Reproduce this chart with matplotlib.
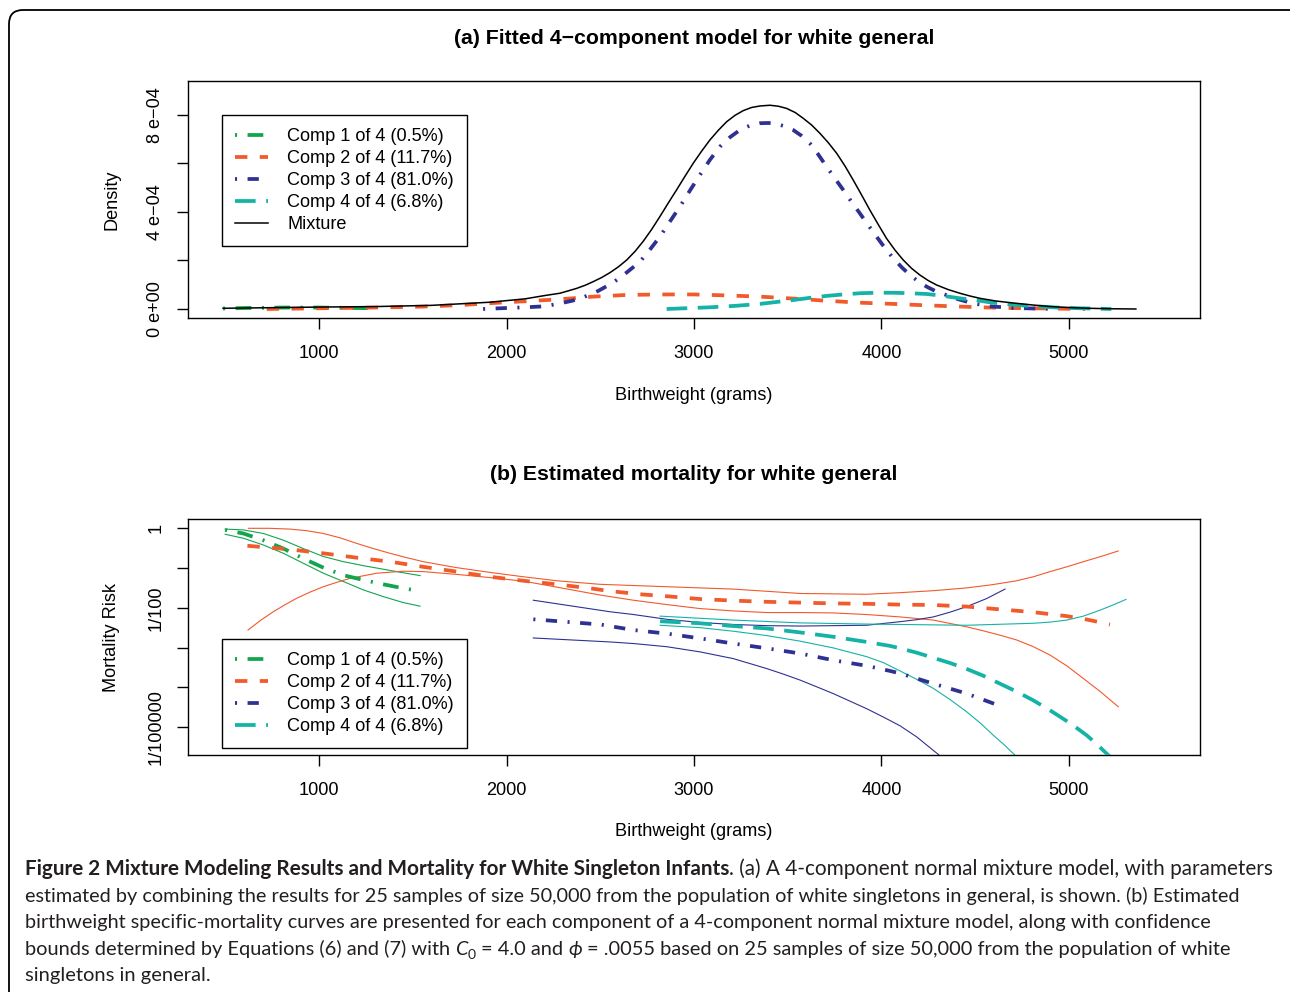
import numpy as np
import matplotlib
matplotlib.use("Agg")
import matplotlib.pyplot as plt
from matplotlib.patches import FancyBboxPatch
from matplotlib.ticker import FixedLocator, FixedFormatter, NullLocator

plt.rcParams['font.family'] = ['Liberation Sans', 'DejaVu Sans']

W, H = 1290, 992

# ── (a) fitted densities (density in units of 1e-4) ──
mix_g   = [488, 700, 1000, 1300, 1600, 1912, 2100, 2200, 2285, 2330, 2374, 2420, 2463, 2508,
           2552, 2597, 2641, 2686, 2730, 2774, 2818, 2862, 2907, 2951, 2996, 3040, 3085,
           3130, 3174, 3218, 3263, 3308, 3352, 3405, 3450, 3494, 3540, 3583, 3628, 3672,
           3717, 3761, 3805, 3849, 3894, 3938, 3983, 4027, 4072, 4116, 4160, 4205, 4250,
           4294, 4356, 4418, 4470, 4525, 4610, 4700, 4800, 4900, 5000, 5100, 5230, 5357]
mix_d   = [0.03, 0.05, 0.08, 0.10, 0.15, 0.28, 0.42, 0.55, 0.65, 0.75, 0.85, 0.98, 1.13, 1.30,
           1.50, 1.74, 2.02, 2.38, 2.80, 3.28, 3.81, 4.36, 4.91, 5.46, 6.01, 6.50, 6.97,
           7.37, 7.72, 7.98, 8.18, 8.31, 8.37, 8.40, 8.36, 8.27, 8.10, 7.86, 7.58, 7.24,
           6.85, 6.42, 5.90, 5.32, 4.70, 4.08, 3.48, 2.91, 2.43, 2.02, 1.68, 1.40, 1.17,
           0.99, 0.80, 0.65, 0.54, 0.44, 0.33, 0.25, 0.17, 0.10, 0.06, 0.03, 0.01, 0.0]

c1_g    = [488, 600, 700, 800, 900, 1000, 1100, 1200, 1288]
c1_d    = [0.02, 0.04, 0.05, 0.06, 0.06, 0.06, 0.05, 0.04, 0.03]

c2_g    = [721, 1000, 1300, 1555, 1750, 1912, 2100, 2285, 2463, 2641, 2818, 2996, 3174,
           3352, 3529, 3707, 3885, 4063, 4241, 4418, 4525, 4700, 4900, 5085]
c2_d    = [0.0, 0.03, 0.06, 0.10, 0.16, 0.24, 0.32, 0.40, 0.51, 0.58, 0.60, 0.60, 0.56,
           0.51, 0.43, 0.34, 0.26, 0.21, 0.15, 0.10, 0.07, 0.04, 0.02, 0.0]

c3_g    = [1875, 1964, 2100, 2202, 2285, 2350, 2409, 2490, 2569, 2640, 2712, 2765, 2818,
           2871, 2925, 2978, 3032, 3085, 3138, 3190, 3245, 3300, 3352, 3397, 3441, 3485,
           3529, 3574, 3618, 3662, 3707, 3751, 3796, 3840, 3885, 3930, 3974, 4018, 4063,
           4108, 4152, 4196, 4241, 4285, 4330, 4410, 4489, 4583, 4702, 4940]
c3_d    = [0.0, 0.03, 0.07, 0.11, 0.23, 0.34, 0.48, 0.75, 1.09, 1.50, 1.95, 2.45, 2.98,
           3.60, 4.22, 4.88, 5.53, 6.15, 6.69, 7.07, 7.38, 7.57, 7.66, 7.67, 7.63, 7.53,
           7.38, 7.14, 6.83, 6.38, 5.87, 5.39, 4.91, 4.42, 3.94, 3.45, 2.98, 2.52, 2.09,
           1.72, 1.40, 1.14, 0.92, 0.75, 0.62, 0.40, 0.23, 0.11, 0.04, 0.0]

c4_g    = [2854, 3085, 3220, 3352, 3440, 3529, 3618, 3707, 3796, 3885, 3974, 4063, 4152,
           4241, 4330, 4418, 4525, 4583, 4700, 4821, 4940, 5060, 5226]
c4_d    = [0.0, 0.07, 0.13, 0.21, 0.29, 0.37, 0.46, 0.54, 0.60, 0.65, 0.67, 0.67, 0.65,
           0.62, 0.54, 0.44, 0.34, 0.27, 0.18, 0.11, 0.06, 0.03, 0.0]

# ── (b) mortality curves with bounds (log10 of risk) ──
m1_g    = [499, 596, 703, 810, 916, 1023, 1130, 1236, 1343, 1450, 1539]
m1_mid  = [-0.04, -0.13, -0.30, -0.51, -0.76, -0.99, -1.18, -1.30, -1.41, -1.51, -1.58]
m1_hi   = [-0.02, -0.04, -0.13, -0.30, -0.51, -0.71, -0.84, -0.94, -1.03, -1.12, -1.19]
m1_lo   = [-0.15, -0.25, -0.42, -0.63, -0.88, -1.13, -1.34, -1.55, -1.72, -1.87, -1.96]

m2_g    = [618, 845, 1023, 1201, 1379, 1556, 1734, 1912, 2090, 2268, 2445, 2552, 2712,
           2855, 3032, 3210, 3388, 3566, 3743, 3921, 4099, 4277, 4455, 4632, 4810, 4988, 5100, 5219]
m2_mid  = [-0.44, -0.53, -0.63, -0.74, -0.84, -0.97, -1.09, -1.22, -1.32, -1.41, -1.51, -1.58, -1.66,
           -1.71, -1.78, -1.82, -1.85, -1.87, -1.89, -1.90, -1.92, -1.93, -1.97, -2.04, -2.11, -2.21,
           -2.30, -2.42]
m2_hi_g = [623, 734, 845, 934, 1023, 1112, 1201, 1290, 1379, 1468, 1556, 1734, 1912, 2090,
           2268, 2499, 2855, 3210, 3566, 3921, 4099, 4277, 4455, 4590, 4721, 4810, 4899, 4988,
           5077, 5170, 5263]
m2_hi   = [0.0, 0.0, -0.02, -0.06, -0.13, -0.24, -0.38, -0.51, -0.63, -0.74, -0.84, -0.99, -1.11, -1.22,
           -1.32, -1.41, -1.47, -1.53, -1.64, -1.66, -1.62, -1.57, -1.50, -1.42, -1.32, -1.22, -1.09, -0.97,
           -0.84, -0.71, -0.57]
m2_lo_g = [621, 690, 756, 820, 881, 950, 1023, 1094, 1165, 1308, 1450, 1556, 1734, 1912, 2090,
           2268, 2499, 2677, 2855, 3032, 3210, 3388, 3566, 3743, 3921, 4099, 4277, 4455, 4543,
           4632, 4721, 4810, 4899, 4988, 5077, 5170, 5263]
m2_lo   = [-2.56, -2.31, -2.10, -1.92, -1.76, -1.61, -1.47, -1.36, -1.26, -1.13, -1.08, -1.09, -1.16,
           -1.24, -1.33, -1.48, -1.68, -1.81, -1.92, -2.02, -2.08, -2.12, -2.12, -2.13, -2.17, -2.23,
           -2.31, -2.48, -2.58, -2.69, -2.81, -2.98, -3.19, -3.46, -3.78, -4.12, -4.49]

m3_g    = [2143, 2499, 2677, 2855, 3032, 3210, 3388, 3566, 3743, 3921, 4046, 4099, 4277, 4455, 4632]
m3_mid  = [-2.29, -2.42, -2.56, -2.65, -2.77, -2.90, -3.02, -3.15, -3.32, -3.46, -3.59, -3.65, -3.91,
           -4.16, -4.47]
m3_hi_g = [2143, 2552, 2677, 2855, 3032, 3210, 3388, 3566, 3743, 3921, 4099, 4188, 4277, 4366,
           4455, 4560, 4659]
m3_hi   = [-1.81, -2.10, -2.17, -2.29, -2.37, -2.42, -2.45, -2.46, -2.45, -2.44, -2.35, -2.30, -2.23,
           -2.11, -1.97, -1.77, -1.53]
m3_lo_g = [2143, 2552, 2677, 2855, 3032, 3210, 3388, 3477, 3566, 3655, 3743, 3832, 3921, 4010,
           4099, 4188, 4303, 4366]
m3_lo   = [-2.76, -2.86, -2.90, -2.98, -3.11, -3.28, -3.53, -3.67, -3.82, -3.99, -4.16, -4.35, -4.54,
           -4.75, -4.97, -5.25, -5.69, -5.96]

m4_g    = [2819, 3032, 3210, 3388, 3566, 3743, 3921, 4046, 4099, 4188, 4277, 4366, 4455, 4543,
           4632, 4721, 4810, 4899, 4988, 5040, 5095, 5150, 5210, 5255]
m4_mid  = [-2.34, -2.39, -2.46, -2.52, -2.62, -2.73, -2.86, -2.96, -3.02, -3.13, -3.26, -3.39, -3.54,
           -3.71, -3.91, -4.11, -4.33, -4.58, -4.85, -5.02, -5.21, -5.44, -5.71, -5.92]
m4_hi_g = [2819, 3210, 3566, 3921, 4099, 4455, 4810, 4900, 4988, 5077, 5166, 5235, 5304]
m4_hi   = [-2.21, -2.31, -2.38, -2.41, -2.42, -2.44, -2.39, -2.36, -2.31, -2.21, -2.06, -1.93, -1.79]
m4_lo_g = [2819, 3032, 3210, 3388, 3566, 3743, 3921, 4010, 4099, 4188, 4277, 4366, 4455, 4527,
           4597, 4655, 4712, 4757]
m4_lo   = [-2.44, -2.50, -2.59, -2.70, -2.84, -3.01, -3.23, -3.38, -3.59, -3.80, -4.03, -4.31, -4.62,
           -4.90, -5.21, -5.45, -5.71, -5.92]

comp_labels = ["Comp 1 of 4 (0.5%)", "Comp 2 of 4 (11.7%)", "Comp 3 of 4 (81.0%)", "Comp 4 of 4 (6.8%)"]
x_ticks = [1000, 2000, 3000, 4000, 5000]
dens_ticks = [0, 2e-4, 4e-4, 6e-4, 8e-4]
dens_ticklabels = ["0 e+00", "", "4 e\u221204", "", "8 e\u221204"]
risk_ticks = [1, 1e-1, 1e-2, 1e-3, 1e-4, 1e-5]
risk_ticklabels = ["1", "", "1/100", "", "", "1/100000"]

# ── styles ──
GREEN, ORANGE, BLUE, TEAL = "#12a54f", "#f15a2b", "#2e3192", "#14b3a5"
LW, LW_THIN = 2.7, 0.8
STY = [
    dict(color=GREEN,  dashes=(0.55, 2.8, 4.2, 2.8)),
    dict(color=ORANGE, dashes=(3.3, 3.3)),
    dict(color=BLUE,   dashes=(0.55, 2.8, 3.0, 2.8)),
    dict(color=TEAL,   dashes=(5.5, 2.8)),
]
FS = 13.05
LEG = dict(loc="upper left", borderaxespad=0, fancybox=False, edgecolor="black", framealpha=1,
           fontsize=FS, handlelength=1.82, handletextpad=1.07, labelspacing=0.28, borderpad=0.72)

fig = plt.figure(figsize=(W / 100, H / 100), dpi=100)
fig.patches.append(FancyBboxPatch((9, -20), 1300, 1002, boxstyle="round,pad=0,rounding_size=14",
                                  transform=None, fill=False, edgecolor="black", linewidth=1.3))


def style_axes(ax):
    for s in ax.spines.values():
        s.set_linewidth(1.0)
    ax.tick_params(direction="out", length=8, width=1.0, labelsize=FS, top=False, right=False)
    ax.tick_params(axis="x", pad=11.5)
    ax.tick_params(axis="y", pad=9)
    ax.set_xlim(301, 5699)
    ax.xaxis.set_major_locator(FixedLocator(x_ticks))
    ax.xaxis.set_minor_locator(NullLocator())


# ── panel (a) ──
axA = fig.add_axes([188 / W, 1 - 318 / H, 1012 / W, 237 / H])
handles = []
for g, d, st, lab in zip([c1_g, c2_g, c3_g, c4_g], [c1_d, c2_d, c3_d, c4_d], STY, comp_labels):
    h, = axA.plot(g, np.array(d) * 1e-4, lw=LW, label=lab, **st)
    handles.append(h)
hm, = axA.plot(mix_g, np.array(mix_d) * 1e-4, color="black", lw=1.1, label="Mixture")
handles.append(hm)
axA.set_ylim(-0.371e-4, 9.40e-4)
style_axes(axA)
axA.yaxis.set_major_locator(FixedLocator(dens_ticks))
axA.yaxis.set_major_formatter(FixedFormatter(dens_ticklabels))
for t in axA.get_yticklabels():
    t.set_rotation(90)
    t.set_va("center")
legA = axA.legend(handles=handles, bbox_to_anchor=(222 / W, 1 - 115 / H),
                  bbox_transform=fig.transFigure, **LEG)
legA.get_frame().set_linewidth(1.0)

# ── panel (b) ──
axB = fig.add_axes([188 / W, 1 - 755 / H, 1012 / W, 236 / H])
bounds = [
    (m1_g, m1_hi, m1_g, m1_lo),
    (m2_hi_g, m2_hi, m2_lo_g, m2_lo),
    (m3_hi_g, m3_hi, m3_lo_g, m3_lo),
    (m4_hi_g, m4_hi, m4_lo_g, m4_lo),
]
mids = [(m1_g, m1_mid), (m2_g, m2_mid), (m3_g, m3_mid), (m4_g, m4_mid)]
for (hg, hv, lg, lv), st in zip(bounds, STY):
    axB.plot(hg, 10.0 ** np.array(hv), color=st["color"], lw=LW_THIN)
    axB.plot(lg, 10.0 ** np.array(lv), color=st["color"], lw=LW_THIN)
hb = []
for (g, v), st, lab in zip(mids, STY, comp_labels):
    h, = axB.plot(g, 10.0 ** np.array(v), lw=LW, label=lab, zorder=3, **st)
    hb.append(h)
axB.set_yscale("log")
axB.set_ylim(10 ** -5.705, 10 ** 0.234)
style_axes(axB)
axB.yaxis.set_major_locator(FixedLocator(risk_ticks))
axB.yaxis.set_major_formatter(FixedFormatter(risk_ticklabels))
axB.yaxis.set_minor_locator(NullLocator())
for t in axB.get_yticklabels():
    t.set_rotation(90)
    t.set_va("center")
legB = axB.legend(handles=hb, bbox_to_anchor=(222 / W, 1 - 639 / H),
                  bbox_transform=fig.transFigure, **LEG)
legB.get_frame().set_linewidth(1.0)

# ── titles and axis labels ──
fig.text(694 / W, 1 - 38 / H, "(a) Fitted 4\u2212component model for white general",
         ha="center", va="center", fontsize=15.3, fontweight="bold")
fig.text(694 / W, 1 - 475 / H, "(b) Estimated mortality for white general",
         ha="center", va="center", fontsize=15.3, fontweight="bold")
fig.text(694 / W, 1 - 395 / H, "Birthweight (grams)", ha="center", va="center", fontsize=FS)
fig.text(694 / W, 1 - 832 / H, "Birthweight (grams)", ha="center", va="center", fontsize=FS)
fig.text(112 / W, 1 - 200 / H, "Density", ha="center", va="center", rotation=90, fontsize=FS)
fig.text(112 / W, 1 - 637 / H, "Mortality Risk", ha="center", va="center", rotation=90, fontsize=FS)

# ── caption, placed run by run ──
renderer = fig.canvas.get_renderer()
CAP = ["Lato", "DejaVu Sans"]
CAP_C = "#231f20"


def text_w(s, size, **kw):
    kw.pop("sub", None)
    t = fig.text(0, 0, s, fontsize=size, family=CAP, **kw)
    w = t.get_window_extent(renderer).width
    t.remove()
    return w


bold1 = "Figure 2 Mixture Modeling Results and Mortality for White Singleton Infants"
cap_lines = [
    [(bold1, dict(fontweight="bold")), (". (a) A 4-component normal mixture model, with parameters", {})],
    [("estimated by combining the results for 25 samples of size 50,000 from the population of white singletons in general, is shown. (b) Estimated", {})],
    [("birthweight specific-mortality curves are presented for each component of a 4-component normal mixture model, along with confidence", {})],
    [("bounds determined by Equations (6) and (7) with", {}), (" ", {}), ("C", dict(style="italic")),
     ("0", dict(sub=True)), (" ", {}), ("= 4.0 and", {}), (" ", {}), ("\u03d5", dict(style="italic")),
     (" ", {}), ("= .0055 based on 25 samples of size 50,000 from the population of white", {})],
    [("singletons in general.", {})],
]
cap_right = [1278, 1245, 1213, 1234, None]
base_y = [875, 902, 928, 955, 981]

sp10 = text_w("a a", 10) - text_w("aa", 10)


def line_w10(runs):
    w = 0.0
    for s, kw in runs:
        if s == " ":
            w += sp10
        elif kw.get("sub"):
            w += text_w(s, 7)
        else:
            w += text_w(s, 10, **kw)
    return w


sizes = []
for runs, xr in zip(cap_lines, cap_right):
    if xr is not None:
        sizes.append(10 * (xr - 25) / line_w10(runs))
sizes.append(float(np.mean(sizes)))

for runs, by, cs in zip(cap_lines, base_y, sizes):
    x = 25.0
    space = sp10 * cs / 10
    for s, kw in runs:
        if s == " ":
            x += space
            continue
        kw = dict(kw)
        size, dy = cs, 0
        if kw.pop("sub", False):
            size, dy = cs * 0.7, 4
        t = fig.text(x / W, 1 - (by + dy) / H, s, fontsize=size, family=CAP, color=CAP_C,
                     ha="left", va="baseline", **kw)
        x += t.get_window_extent(renderer).width

fig.savefig("out.png", dpi=100)
